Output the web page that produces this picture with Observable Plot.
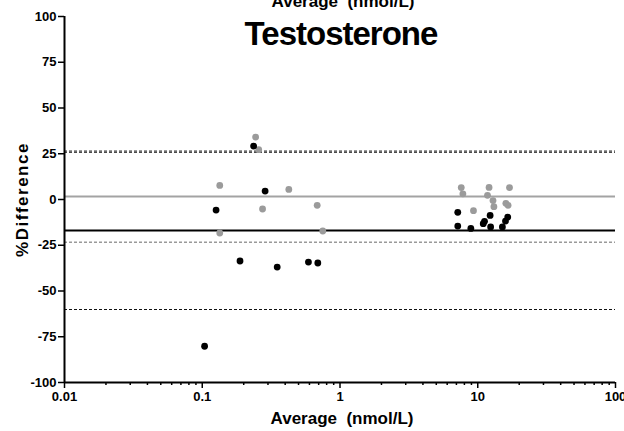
<!DOCTYPE html>
<html>
<head>
<meta charset="utf-8">
<script src="https://cdn.jsdelivr.net/npm/d3@7"></script>
<script src="https://cdn.jsdelivr.net/npm/@observablehq/plot@0.6"></script>
<style>
  html, body { margin: 0; padding: 0; background: #fff; }
  #chart { width: 624px; height: 431px; overflow: hidden; }
</style>
</head>
<body>
<div id="chart"></div>
<script>
// Data
const blackX = [0.236, 0.286, 0.126, 0.188, 0.35, 0.59, 0.69, 0.104, 7.16, 7.16, 8.91, 12.3, 11.2, 10.96, 12.4, 15.1, 16.5, 15.9];
const blackY = [29.2, 4.6, -5.8, -33.6, -36.9, -34.2, -34.7, -80.2, -7.0, -14.5, -15.8, -8.7, -11.9, -13.2, -15.0, -15.0, -9.6, -11.8];
const grayX = [0.244, 0.257, 0.134, 0.425, 0.274, 0.683, 0.134, 0.75, 7.59, 7.80, 12.08, 11.77, 12.9, 13.1, 17.0, 16.0, 16.6, 9.31];
const grayY = [34.1, 27.2, 7.7, 5.5, -5.2, -3.2, -18.3, -17.2, 6.5, 3.1, 6.6, 2.3, -0.6, -3.9, 6.5, -2.1, -3.2, -6.1];

const grayMean = [1.6];
const grayLimits = [26.6, -23.4];
const blackMean = [-16.9];
const blackLimits = [25.9, -60.1];

const xMajorTicks = [0.01, 0.1, 1, 10, 100];
const xMinorTicks = [];
for (const d of [0.01, 0.1, 1, 10]) for (const m of [2,3,4,5,6,7,8,9]) xMinorTicks.push(+(d*m).toPrecision(3));
const yTicks = [-100, -75, -50, -25, 0, 25, 50, 75, 100];

const title = "Testosterone";
const xLabel = "Average  (nmol/L)";
const yLabel = "%Difference";

const font = "'Liberation Sans', Arial, Helvetica, sans-serif";

const black = blackX.map((x, i) => ({x, y: blackY[i]}));
const gray = grayX.map((x, i) => ({x, y: grayY[i]}));

const chart = Plot.plot({
  width: 624,
  height: 431,
  marginLeft: 64,
  marginRight: 9,
  marginTop: 16,
  marginBottom: 49,
  style: {fontFamily: font, fontWeight: "bold", fontSize: "13px", color: "#000", background: "#fff", overflow: "visible"},
  x: {type: "log", domain: [0.01, 100], label: null},
  y: {domain: [-100, 100], label: null},
  marks: [
    Plot.axisX(xMinorTicks, {tickSize: 3, tickFormat: () => "", strokeWidth: 1.5, label: null}),
    Plot.axisX(xMajorTicks, {tickSize: 6, tickPadding: 3, tickFormat: d => String(d), strokeWidth: 1.5, label: null, fontSize: 13, fontWeight: "bold"}),
    Plot.axisY(yTicks, {tickSize: 6, tickPadding: 2, tickFormat: d => String(d), strokeWidth: 1.5, label: null, fontSize: 13, fontWeight: "bold"}),
    Plot.ruleY(grayLimits, {stroke: "#9a9a9a", strokeWidth: 1.5, strokeDasharray: "3,2"}),
    Plot.ruleY(blackLimits, {stroke: "#111", strokeWidth: 1.2, strokeDasharray: "3,2"}),
    Plot.ruleY(grayMean, {stroke: "#a3a3a3", strokeWidth: 2}),
    Plot.ruleY(blackMean, {stroke: "#000", strokeWidth: 2}),
    Plot.dot(gray, {x: "x", y: "y", r: 3.4, fill: "#9b9b9b", stroke: "none"}),
    Plot.dot(black, {x: "x", y: "y", r: 3.4, fill: "#000", stroke: "none"}),
    Plot.ruleX([0.01], {stroke: "#000", strokeWidth: 2}),
    Plot.ruleY([-100], {stroke: "#000", strokeWidth: 2}),
    Plot.text([title], {frameAnchor: "top", lineAnchor: "bottom", dy: 28, dx: 1, fontSize: 33, fontWeight: "bold", fill: "#000", className: "ttl"}),
    Plot.text([xLabel], {frameAnchor: "top", lineAnchor: "bottom", dy: -9.5, dx: 3, fontSize: 17, fontWeight: "bold", fill: "#000"}),
    Plot.text([xLabel], {frameAnchor: "bottom", lineAnchor: "bottom", dy: 41, dx: 2, fontSize: 17, fontWeight: "bold", fill: "#000"}),
    Plot.text([yLabel], {frameAnchor: "left", textAnchor: "middle", dx: -42, rotate: -90, lineAnchor: "middle", fontSize: 17, fontWeight: "bold", fill: "#000", className: "ylab"})
  ]
});

d3.select(chart).selectAll(".ttl text").attr("letter-spacing", "-1");
d3.select(chart).selectAll(".ylab text").attr("letter-spacing", "1.5");
document.getElementById("chart").appendChild(chart);
</script>
</body>
</html>
